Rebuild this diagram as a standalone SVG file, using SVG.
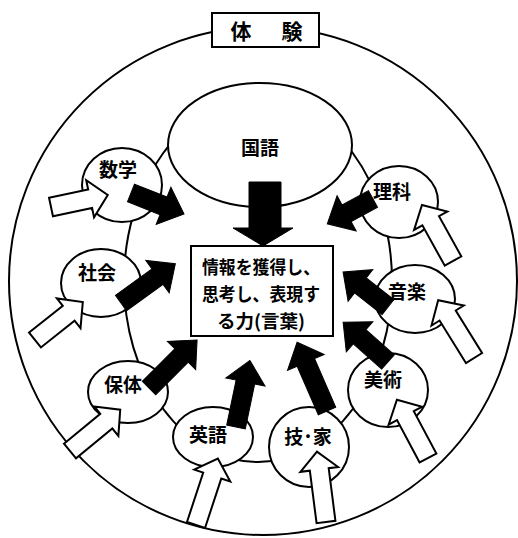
<svg xmlns="http://www.w3.org/2000/svg" width="518" height="538" viewBox="0 0 518 538">
<style>
.ln{fill:none;stroke:#000;stroke-width:2}
.nd{fill:#fff;stroke:#000;stroke-width:2}
.bk{fill:#000;stroke:#000;stroke-width:1}
.wh{fill:#fff;stroke:#000;stroke-width:2;stroke-linejoin:miter}
.t{font-family:"Noto Sans CJK JP","Noto Sans",sans-serif;font-size:19px;font-weight:700;text-anchor:middle;dominant-baseline:central;fill:#000}
.c{font-size:18px}
</style>
<rect width="518" height="538" fill="#fff"/>
<g id="outer">
<circle class="ln" cx="263" cy="281" r="254"/>
</g>
<g id="ring">
<ellipse class="ln" cx="258" cy="281" rx="134" ry="181"/>
</g>
<g id="kokugo">
<ellipse class="nd" cx="260" cy="145" rx="92" ry="62"/>
<text class="t" x="260" y="146">国語</text>
</g>
<g id="sugaku"><ellipse class="nd" cx="122" cy="185" rx="40" ry="37"/><text class="t" x="118" y="168">数学</text></g>
<g id="shakai"><ellipse class="nd" cx="101" cy="283" rx="40" ry="34"/><text class="t" x="97" y="271">社会</text></g>
<g id="hotai"><ellipse class="nd" cx="128" cy="392" rx="40" ry="31"/><text class="t" x="123" y="383">保体</text></g>
<g id="eigo"><ellipse class="nd" cx="213" cy="437" rx="40" ry="30"/><text class="t" x="208" y="433">英語</text></g>
<g id="gika"><ellipse class="nd" cx="309" cy="447" rx="40" ry="40"/><text class="t" x="308" y="435">技･家</text></g>
<g id="bijutsu"><ellipse class="nd" cx="388" cy="390" rx="40" ry="37"/><text class="t" x="383" y="378">美術</text></g>
<g id="ongaku"><ellipse class="nd" cx="415" cy="299" rx="40" ry="34"/><text class="t" x="407" y="290">音楽</text></g>
<g id="rika"><ellipse class="nd" cx="399" cy="202" rx="39" ry="36"/><text class="t" x="392" y="190">理科</text></g>
<g id="connectors">
<path class="wh" d="M0,-9.5H40V-19L58,0L40,19V9.5H0Z" transform="translate(51,207) rotate(-11.9)"/>
<path class="wh" d="M0,-9.5H43V-19L61,0L43,19V9.5H0Z" transform="translate(35,340) rotate(-38.4)"/>
<path class="wh" d="M0,-9.5H47V-19L65,0L47,19V9.5H0Z" transform="translate(70,451) rotate(-39.4)"/>
<path class="wh" d="M0,-9.5H52V-19L70,0L52,19V9.5H0Z" transform="translate(196,525) rotate(-71.8)"/>
<path class="wh" d="M0,-9.5H53V-19L71,0L53,19V9.5H0Z" transform="translate(326,522) rotate(-97.3)"/>
<path class="wh" d="M0,-9.5H48V-19L66,0L48,19V9.5H0Z" transform="translate(428,458) rotate(-118.1)"/>
<path class="wh" d="M0,-9.5H50V-19L68,0L50,19V9.5H0Z" transform="translate(474,358) rotate(-121.8)"/>
<path class="wh" d="M0,-9.5H46V-19L64,0L46,19V9.5H0Z" transform="translate(453,261) rotate(-119)"/>
<path class="bk" d="M0,-9.5H35V-20L57,0L35,20V9.5H0Z" transform="translate(131,193) rotate(21.6)"/>
<path class="bk" d="M0,-9.5H45V-20L67,0L45,20V9.5H0Z" transform="translate(121,303) rotate(-35.8)"/>
<path class="bk" d="M0,-9.5H46V-20L68,0L46,20V9.5H0Z" transform="translate(149,388) rotate(-45)"/>
<path class="bk" d="M0,-9.5H46V-20L68,0L46,20V9.5H0Z" transform="translate(236,427) rotate(-78.2)"/>
<path class="bk" d="M0,-9.5H53V-20L75,0L53,20V9.5H0Z" transform="translate(327,411) rotate(-113.5)"/>
<path class="bk" d="M0,-9.5H38V-20L60,0L38,20V9.5H0Z" transform="translate(388,362) rotate(-138.4)"/>
<path class="bk" d="M0,-9.5H35V-20L57,0L35,20V9.5H0Z" transform="translate(388,307) rotate(-142)"/>
<path class="bk" d="M0,-9.5H30V-20L52,0L30,20V9.5H0Z" transform="translate(373,199) rotate(151.5)"/>
<polygon class="bk" points="249,182 281,182 281,228 293,228 263,246 233,228 249,228"/>
</g>
<g id="center">
<rect class="nd" x="191" y="246" width="142" height="90"/>
<text class="t c" x="261" y="266" textLength="118" lengthAdjust="spacingAndGlyphs">情報を獲得し、</text>
<text class="t c" x="261" y="293" textLength="118" lengthAdjust="spacingAndGlyphs">思考し、表現す</text>
<text class="t c" x="261" y="320" textLength="88" lengthAdjust="spacingAndGlyphs">る力(言葉)</text>
</g>
<g id="taiken">
<rect class="nd" x="212" y="13" width="107" height="34"/>
<text class="t" x="241 292" y="30" style="font-size:21px">体験</text>
</g>
</svg>
